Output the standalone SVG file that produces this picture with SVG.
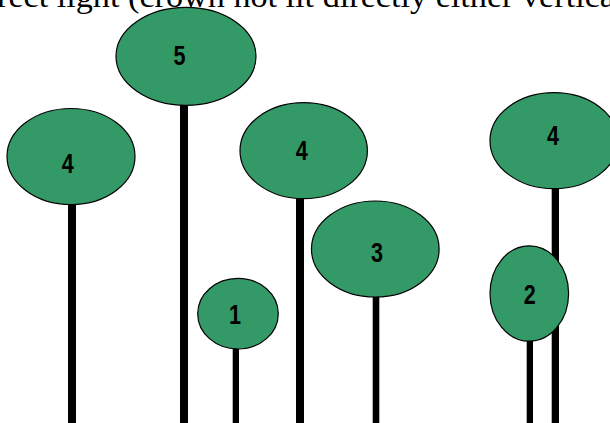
<svg xmlns="http://www.w3.org/2000/svg" width="610" height="423" viewBox="0 0 610 423">
<style>
.crown{fill:#339966;stroke:#000;stroke-width:1.2}
.trunk{fill:#000}
.lbl{font-family:"Liberation Sans",Arial,sans-serif;font-weight:bold;font-size:27px;fill:#000;text-anchor:middle}
.cap{font-family:"Liberation Serif","Times New Roman",serif;font-size:32px;fill:#000}
</style>
<rect x="0" y="0" width="610" height="423" fill="#fff"/>
<text class="cap" x="-3" y="7" textLength="618" lengthAdjust="spacingAndGlyphs">rect light (crown not lit directly either vertica</text>
<g id="connectors"></g>
<g id="tree-4-left">
<rect class="trunk" x="68" y="190" width="8" height="233"/>
<ellipse class="crown" cx="71" cy="156.5" rx="64" ry="48"/>
<text class="lbl" transform="translate(67.7,172.7) scale(0.8,1)">4</text>
</g>
<g id="tree-5">
<rect class="trunk" x="180" y="90" width="8" height="333"/>
<ellipse class="crown" cx="186" cy="56.3" rx="70" ry="49"/>
<text class="lbl" transform="translate(179.5,64.7) scale(0.8,1)">5</text>
</g>
<g id="tree-1">
<rect class="trunk" x="232.7" y="330" width="6.3" height="93"/>
<ellipse class="crown" cx="238" cy="313.7" rx="40.3" ry="35.3"/>
<text class="lbl" transform="translate(235,323.7) scale(0.8,1)">1</text>
</g>
<g id="tree-4-mid">
<rect class="trunk" x="296" y="180" width="8" height="243"/>
<ellipse class="crown" cx="303.7" cy="150.7" rx="63.7" ry="48"/>
<text class="lbl" transform="translate(301.7,160) scale(0.8,1)">4</text>
</g>
<g id="tree-3">
<rect class="trunk" x="372.7" y="280" width="6.6" height="143"/>
<ellipse class="crown" cx="375.3" cy="249" rx="63.8" ry="48"/>
<text class="lbl" transform="translate(377,261.7) scale(0.8,1)">3</text>
</g>
<g id="tree-4-right">
<rect class="trunk" x="551.7" y="170" width="7.3" height="253"/>
<ellipse class="crown" cx="554" cy="140.7" rx="64" ry="48"/>
<text class="lbl" transform="translate(553,145) scale(0.8,1)">4</text>
</g>
<g id="tree-2">
<rect class="trunk" x="526.7" y="320" width="6.3" height="103"/>
<ellipse class="crown" cx="529.3" cy="293.5" rx="39.3" ry="47.7"/>
<text class="lbl" transform="translate(529.7,304.4) scale(0.8,1)">2</text>
</g>
</svg>
